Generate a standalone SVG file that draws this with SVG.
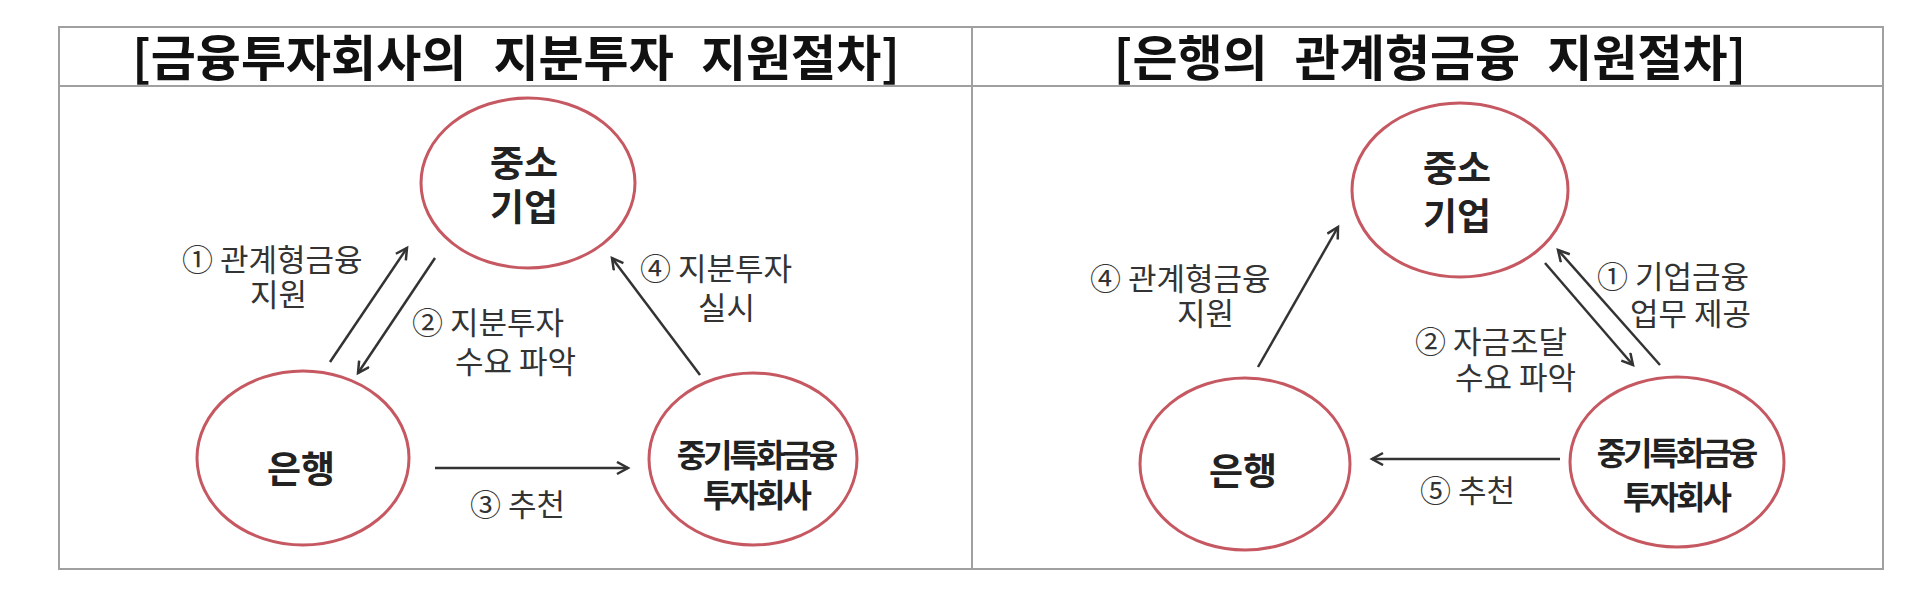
<svg xmlns="http://www.w3.org/2000/svg" width="1920" height="594" viewBox="0 0 1920 594">
<style>
.frame{fill:none;stroke:#a0a0a0;stroke-width:2}
.node{fill:none;stroke:#c65862;stroke-width:3}
.title{font-family:"Noto Sans CJK KR","Noto Sans",sans-serif;font-weight:bold;font-size:49px;fill:#111;text-anchor:middle;word-spacing:16px}
.nt{font-family:"Noto Sans CJK KR","Noto Sans",sans-serif;font-weight:bold;font-size:37px;fill:#222;text-anchor:middle}
.nt2{font-family:"Noto Sans CJK KR","Noto Sans",sans-serif;font-weight:bold;font-size:32px;fill:#222;text-anchor:middle;letter-spacing:-3px}
.lb{font-family:"Noto Sans CJK KR","Noto Sans",sans-serif;font-size:31px;fill:#333}
.arr{stroke:#333;stroke-width:2.5;fill:none;marker-end:url(#ah)}
</style>
<defs>
<marker id="ah" markerUnits="userSpaceOnUse" markerWidth="16" markerHeight="16" refX="12" refY="7" orient="auto">
<path d="M1,1 L12,7 L1,13" fill="none" stroke="#333" stroke-width="2.5"/>
</marker>
</defs>
<rect width="1920" height="594" fill="#ffffff"/>
<g id="frame">
<rect class="frame" x="59" y="27" width="1824" height="542"/>
<line class="frame" x1="59" y1="86" x2="1883" y2="86"/>
<line class="frame" x1="972" y1="27" x2="972" y2="569"/>
<text class="title" x="516" y="76">[금융투자회사의 지분투자 지원절차]</text>
<text class="title" x="1430" y="76">[은행의 관계형금융 지원절차]</text>
</g>
<g id="L-sme">
<ellipse class="node" cx="528" cy="183" rx="107" ry="85"/>
<text class="nt" x="524" y="177">중소<tspan x="524" dy="44">기업</tspan></text>
</g>
<g id="L-bank">
<ellipse class="node" cx="303" cy="458" rx="106" ry="87"/>
<text class="nt" x="301" y="483">은행</text>
</g>
<g id="L-inv">
<ellipse class="node" cx="753" cy="459" rx="104" ry="86"/>
<text class="nt2" x="756" y="467">중기특화금융<tspan x="756" dy="40">투자회사</tspan></text>
</g>
<g id="R-sme">
<ellipse class="node" cx="1460" cy="190" rx="108" ry="87"/>
<text class="nt" x="1457" y="182">중소<tspan x="1457" dy="48">기업</tspan></text>
</g>
<g id="R-bank">
<ellipse class="node" cx="1245" cy="464" rx="105" ry="86"/>
<text class="nt" x="1243" y="485">은행</text>
</g>
<g id="R-inv">
<ellipse class="node" cx="1677" cy="462" rx="107" ry="85"/>
<text class="nt2" x="1676" y="465">중기특화금융<tspan x="1676" dy="44">투자회사</tspan></text>
</g>
<g id="connectors">
<line class="arr" x1="330" y1="362" x2="407" y2="248"/>
<line class="arr" x1="435" y1="258" x2="358" y2="373"/>
<line class="arr" x1="435" y1="468" x2="628" y2="468"/>
<line class="arr" x1="700" y1="375" x2="612" y2="258"/>
<line class="arr" x1="1258" y1="367" x2="1338" y2="227"/>
<line class="arr" x1="1660" y1="365" x2="1558" y2="250"/>
<line class="arr" x1="1545" y1="263" x2="1633" y2="365"/>
<line class="arr" x1="1560" y1="459" x2="1372" y2="459"/>
</g>
<g id="labels">
<text class="lb" x="182" y="271">① 관계형금융<tspan x="250" dy="35">지원</tspan></text>
<text class="lb" x="412" y="334">② 지분투자<tspan x="455" dy="39">수요 파악</tspan></text>
<text class="lb" x="470" y="516">③ 추천</text>
<text class="lb" x="640" y="280">④ 지분투자<tspan x="698" dy="39">실시</tspan></text>
<text class="lb" x="1090" y="290">④ 관계형금융<tspan x="1177" dy="35">지원</tspan></text>
<text class="lb" x="1597" y="288">① 기업금융<tspan x="1630" dy="37">업무 제공</tspan></text>
<text class="lb" x="1415" y="353">② 자금조달<tspan x="1455" dy="36">수요 파악</tspan></text>
<text class="lb" x="1420" y="502">⑤ 추천</text>
</g>
</svg>
